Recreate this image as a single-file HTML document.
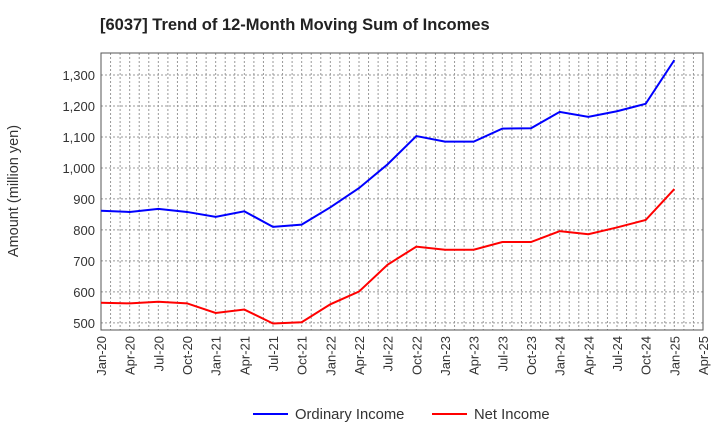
<!DOCTYPE html>
<html><head><meta charset="utf-8"><style>
body{margin:0;background:#fff;font-family:"Liberation Sans",sans-serif}
</style></head><body>
<svg id="chart" width="720" height="440" xmlns="http://www.w3.org/2000/svg" font-family="Liberation Sans, sans-serif">
<text x="100" y="30" font-size="16.5" font-weight="bold" fill="#222">[6037]  Trend of 12-Month Moving Sum of Incomes</text>
<text transform="translate(18,191) rotate(-90)" text-anchor="middle" font-size="14.5" fill="#333">Amount (million yen)</text>
<g id="grid"></g><g id="axes"></g><g id="series"></g>
<g>
<line x1="253" y1="414" x2="288" y2="414" stroke="#0000ff" stroke-width="2"/>
<text x="295" y="419" font-size="14.8" fill="#333">Ordinary Income</text>
<line x1="432" y1="414" x2="467" y2="414" stroke="#ff0000" stroke-width="2"/>
<text x="474" y="419" font-size="14.8" fill="#333">Net Income</text>
</g>
</svg>
<script>
const categories=["Jan-20","Apr-20","Jul-20","Oct-20","Jan-21","Apr-21","Jul-21","Oct-21","Jan-22","Apr-22","Jul-22","Oct-22","Jan-23","Apr-23","Jul-23","Oct-23","Jan-24","Apr-24","Jul-24","Oct-24","Jan-25","Apr-25"];
const ordinaryIncome=[862,858,868,858,842,860,810,817,873,935,1012,1103,1085,1085,1127,1128,1181,1165,1183,1207,1348];
const netIncome=[565,563,568,563,532,543,498,502,560,601,688,746,736,736,761,761,796,786,808,832,932];
const yTicks=[500,600,700,800,900,1000,1100,1200,1300];
const NS="http://www.w3.org/2000/svg";
const L=101,R=703,T=53,B=330,yMin=477,yMax=1371;
const x=i=>L+(R-L)*i/(categories.length-1);
const y=v=>B-(v-yMin)/(yMax-yMin)*(B-T);
function mk(tag,attrs,parent){const e=document.createElementNS(NS,tag);for(const k in attrs)e.setAttribute(k,attrs[k]);parent.appendChild(e);return e;}
const grid=document.getElementById('grid'),axes=document.getElementById('axes'),series=document.getElementById('series');
for(let m=1;m<(categories.length-1)*3;m++){const xx=L+(R-L)*m/((categories.length-1)*3);
 const g=mk('line',{x1:xx,x2:xx,y1:T,y2:B,stroke:'#999','stroke-width':1,'stroke-dasharray':'2,2'},grid);
 
 }
yTicks.forEach(v=>{const g=mk('line',{x1:L,x2:R,y1:y(v),y2:y(v),stroke:'#999','stroke-width':1,'stroke-dasharray':'2,2'},grid);
 
 
 const t=mk('text',{x:L-6,y:y(v)+5,'text-anchor':'end','font-size':13,fill:'#333'},axes);
 
 
 t.textContent=v.toLocaleString('en-US');});
categories.forEach((c,i)=>{const t=mk('text',{transform:`translate(${x(i)+5},336) rotate(-90)`,'text-anchor':'end','font-size':13,fill:'#333'},axes);
 
 
 t.textContent=c;});
const frame=mk('rect',{x:L,y:T,width:R-L,height:B-T,fill:'none',stroke:'#555','stroke-width':1},axes);


function line(vals,color,name){const p=mk('polyline',{points:vals.map((v,i)=>x(i)+','+y(v)).join(' '),fill:'none',stroke:color,'stroke-width':2},series);
 
 }
line(ordinaryIncome,'#0000ff','ordinary-income-line');
line(netIncome,'#ff0000','net-income-line');
</script>
</body></html>
